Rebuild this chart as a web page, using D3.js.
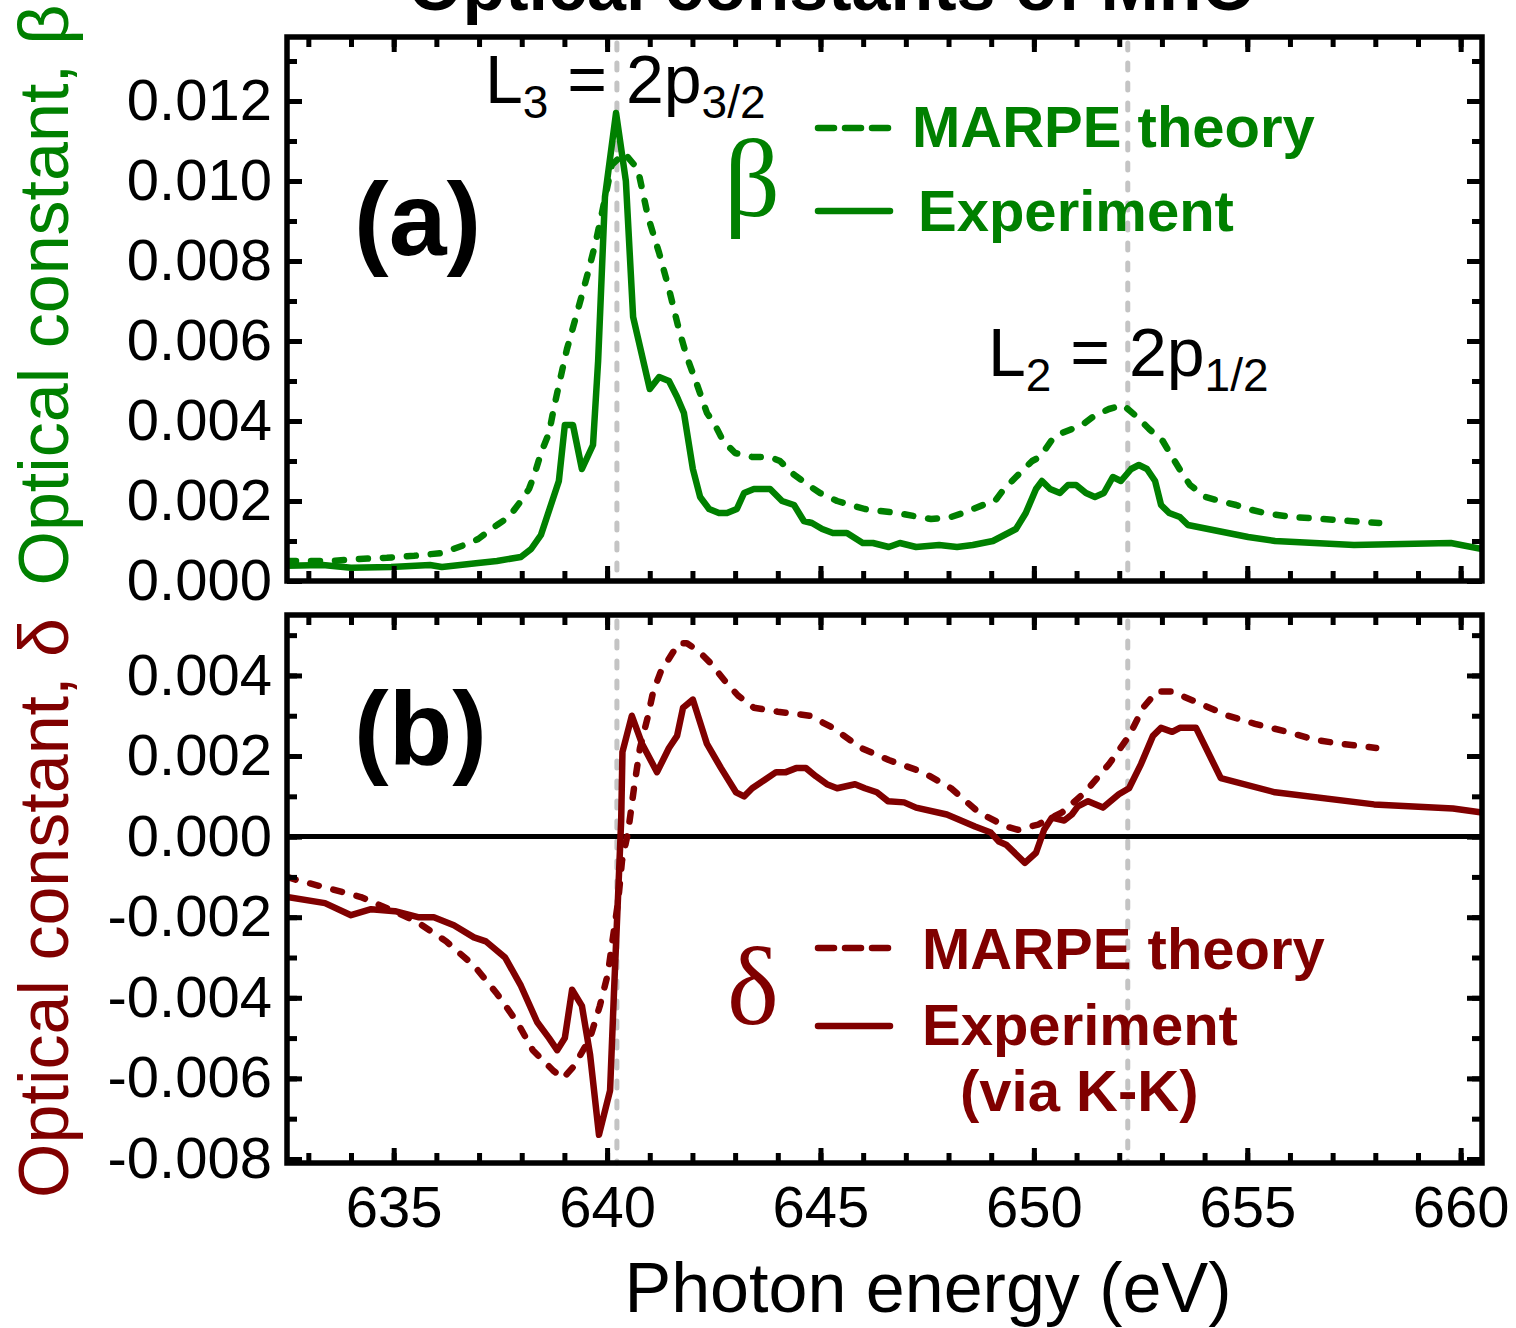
<!DOCTYPE html>
<html><head><meta charset="utf-8">
<script src="https://cdn.jsdelivr.net/npm/d3@7"></script>
<style>html,body{margin:0;padding:0;background:#fff;}svg{display:block;}</style>
</head><body>
<svg id="chart" width="1516" height="1328"></svg>
<script>
// ---------- data ----------
const xTicksMajor = [635, 640, 645, 650, 655, 660];
const betaTicks = [0, 0.002, 0.004, 0.006, 0.008, 0.010, 0.012];
const deltaTicks = [-0.008, -0.006, -0.004, -0.002, 0, 0.002, 0.004];
const edgeEnergies = [640.23, 652.2];

const betaExperiment = [[632.5,0.00038],[633.34,0.0004],[634.0,0.00033],[634.94,0.00035],[635.85,0.0004],[636.13,0.00035],[636.98,0.00045],[637.42,0.0005],[637.98,0.0006],[638.22,0.0008],[638.45,0.00115],[638.87,0.0025],[639.01,0.0039],[639.2,0.0039],[639.41,0.0028],[639.67,0.0034],[639.79,0.0055],[639.95,0.0096],[640.21,0.0117],[640.44,0.0100],[640.61,0.0066],[641.0,0.0048],[641.22,0.0051],[641.45,0.005],[641.64,0.0046],[641.8,0.0042],[642.01,0.0028],[642.18,0.0021],[642.39,0.0018],[642.62,0.0017],[642.81,0.0017],[643.04,0.0018],[643.21,0.0022],[643.44,0.0023],[643.82,0.0023],[644.1,0.002],[644.38,0.0019],[644.61,0.0015],[644.8,0.00145],[645.04,0.0013],[645.29,0.0012],[645.62,0.0012],[645.99,0.00095],[646.23,0.00095],[646.6,0.00085],[646.86,0.00095],[647.24,0.00085],[647.78,0.0009],[648.2,0.00085],[648.57,0.0009],[649.04,0.001],[649.58,0.0013],[649.81,0.0017],[650.05,0.0023],[650.19,0.0025],[650.38,0.0023],[650.61,0.0022],[650.8,0.0024],[650.99,0.0024],[651.22,0.0022],[651.43,0.0021],[651.64,0.0022],[651.85,0.0026],[652.04,0.0025],[652.28,0.0028],[652.46,0.0029],[652.65,0.0028],[652.84,0.0025],[652.98,0.0019],[653.17,0.0017],[653.42,0.0016],[653.61,0.0014],[655.02,0.0011],[655.65,0.001],[657.5,0.0009],[659.77,0.00095],[660.5,0.0008]];

const betaTheory = [[632.5,0.0005],[633.53,0.0005],[634.19,0.00055],[634.84,0.00058],[635.48,0.00063],[636.13,0.0007],[636.79,0.00095],[636.98,0.00105],[637.42,0.0014],[637.7,0.0016],[637.98,0.002],[638.17,0.0023],[638.31,0.0027],[638.45,0.0032],[638.64,0.0037],[638.73,0.0042],[638.87,0.0049],[639.06,0.0058],[639.27,0.0066],[639.55,0.0077],[639.74,0.0085],[639.88,0.0092],[640.11,0.0104],[640.4,0.0107],[640.72,0.0103],[640.96,0.0091],[641.22,0.0082],[641.45,0.0073],[641.68,0.0063],[641.87,0.0056],[642.11,0.0049],[642.34,0.0042],[642.53,0.0039],[642.72,0.0035],[643.0,0.0032],[643.4,0.0031],[643.82,0.0031],[644.05,0.003],[644.33,0.0027],[644.71,0.0024],[644.99,0.0022],[645.39,0.002],[646.04,0.0018],[646.79,0.0017],[647.59,0.00155],[648.06,0.0016],[648.34,0.0017],[648.81,0.0019],[649.09,0.002],[649.3,0.0023],[649.58,0.0026],[649.96,0.003],[650.14,0.0031],[650.47,0.0036],[650.66,0.0037],[651.13,0.0039],[651.38,0.0041],[651.76,0.0043],[652.09,0.0044],[652.42,0.0041],[652.7,0.0038],[653.02,0.0035],[653.24,0.0031],[653.47,0.0027],[653.66,0.0024],[654.03,0.0021],[654.36,0.002],[654.74,0.0019],[655.02,0.0018],[655.41,0.0017],[656.02,0.0016],[656.77,0.00155],[657.41,0.0015],[658.09,0.00145]];

const deltaExperiment = [[632.5,-0.0015],[633.39,-0.00165],[634.0,-0.00195],[634.47,-0.0018],[635.03,-0.00185],[635.57,-0.002],[635.94,-0.002],[636.41,-0.0022],[636.88,-0.0025],[637.16,-0.0026],[637.61,-0.003],[637.98,-0.0037],[638.36,-0.0046],[638.64,-0.005],[638.83,-0.0053],[639.01,-0.005],[639.18,-0.0038],[639.41,-0.0042],[639.6,-0.0054],[639.81,-0.0074],[640.07,-0.0063],[640.16,-0.0039],[640.26,-0.0014],[640.33,0.0004],[640.36,0.0021],[640.58,0.003],[640.82,0.0023],[641.17,0.0016],[641.45,0.0022],[641.64,0.0025],[641.78,0.0032],[642.01,0.0034],[642.34,0.0023],[642.67,0.0017],[643.02,0.0011],[643.21,0.001],[643.4,0.0012],[643.68,0.0014],[643.96,0.0016],[644.19,0.0016],[644.43,0.0017],[644.66,0.0017],[644.89,0.0015],[645.15,0.0013],[645.39,0.0012],[645.81,0.0013],[646.04,0.0012],[646.32,0.0011],[646.58,0.00088],[646.96,0.00085],[647.24,0.00072],[647.96,0.00055],[648.25,0.00042],[648.62,0.00025],[648.99,0.0001],[649.18,-0.00012],[649.35,-0.0002],[649.79,-0.00065],[650.05,-0.0004],[650.24,0.00017],[650.42,0.00047],[650.71,0.0004],[650.89,0.00055],[651.03,0.00075],[651.27,0.00088],[651.62,0.00072],[651.99,0.00105],[652.23,0.0012],[652.51,0.0018],[652.79,0.0025],[652.98,0.0027],[653.24,0.0026],[653.42,0.0027],[653.8,0.0027],[654.38,0.00145],[655.65,0.0011],[657.97,0.0008],[659.82,0.0007],[660.5,0.0006]];

const deltaTheory = [[632.5,-0.001],[632.71,-0.00107],[633.53,-0.0013],[634.23,-0.0015],[634.89,-0.0018],[635.52,-0.0021],[636.23,-0.0026],[636.88,-0.0032],[637.42,-0.0039],[637.89,-0.0046],[638.26,-0.0053],[638.73,-0.0058],[638.97,-0.006],[639.22,-0.0057],[639.6,-0.005],[639.83,-0.0042],[640.02,-0.0034],[640.11,-0.0027],[640.26,-0.0016],[640.35,-0.0006],[640.49,0.0001],[640.63,0.0012],[640.77,0.0022],[640.96,0.003],[641.08,0.0036],[641.26,0.0041],[641.5,0.0045],[641.68,0.0048],[641.87,0.0048],[642.15,0.0046],[642.43,0.0043],[642.81,0.0038],[643.07,0.0035],[643.44,0.0032],[644.0,0.0031],[644.75,0.003],[645.29,0.0027],[645.95,0.0022],[646.6,0.0019],[647.4,0.0016],[648.06,0.0012],[648.71,0.0006],[649.35,0.00025],[649.63,0.00017],[650.1,0.0003],[650.66,0.0006],[651.2,0.0011],[651.76,0.0018],[652.23,0.0025],[652.56,0.0032],[652.88,0.0036],[653.24,0.0036],[653.89,0.0033],[654.55,0.003],[655.18,0.0028],[655.93,0.0026],[656.59,0.0024],[657.22,0.0023],[658.02,0.0022]];

// ---------- layout ----------
const GREEN = "#008000", RED = "#800000";
const SANS = "'Liberation Sans', Arial, sans-serif";
const SERIF = "'Liberation Serif', 'Times New Roman', serif";
const svg = d3.select("#chart");
const L = 287, R = 1482;
const x = d3.scaleLinear().domain([632.5, 660.5]).range([L, R]);
const xMinor = d3.range(633, 661, 1);

const panels = [
  {top: 37, bottom: 581, domain: [0, 0.0136], ticks: betaTicks, minor: d3.range(0, 0.01351, 0.001),
   series: [betaTheory, betaExperiment], color: GREEN, id: "a"},
  {top: 615, bottom: 1163, domain: [-0.0081, 0.0055], ticks: deltaTicks, minor: d3.range(-0.008, 0.00551, 0.001),
   series: [deltaTheory, deltaExperiment], color: RED, id: "b"}
];

const fmt = d => (Math.abs(d) < 1e-9 ? 0 : d).toFixed(3);
const LW = 6.5;

panels.forEach((p, i) => {
  const y = d3.scaleLinear().domain(p.domain).range([p.bottom, p.top]);
  const g = svg.append("g");
  g.append("clipPath").attr("id", "clip" + p.id)
    .append("rect").attr("x", L).attr("y", p.top).attr("width", R - L).attr("height", p.bottom - p.top);

  // edge markers (grey dashed)
  g.selectAll(".edge").data(edgeEnergies).enter().append("line")
    .attr("x1", d => x(d)).attr("x2", d => x(d))
    .attr("y1", p.top + 6).attr("y2", p.bottom)
    .attr("stroke", "#c4c4c4").attr("stroke-width", 5)
    .attr("stroke-dasharray", "7,13").attr("stroke-linecap", "round");

  if (p.id === "b") {
    g.append("line").attr("x1", L).attr("x2", R).attr("y1", y(0)).attr("y2", y(0))
      .attr("stroke", "#000").attr("stroke-width", 5);
  }

  const line = d3.line().x(d => x(d[0])).y(d => y(d[1]));
  const lg = g.append("g").attr("clip-path", `url(#clip${p.id})`);
  lg.append("path").datum(p.series[0]).attr("d", line).attr("fill", "none")
    .attr("stroke", p.color).attr("stroke-width", LW)
    .attr("stroke-dasharray", "9,15").attr("stroke-linecap", "round").attr("stroke-linejoin", "round");
  lg.append("path").datum(p.series[1]).attr("d", line).attr("fill", "none")
    .attr("stroke", p.color).attr("stroke-width", LW).attr("stroke-linejoin", "round");

  const styleAxis = sel => {
    sel.select(".domain").remove();
    sel.selectAll(".tick line").attr("stroke", "#000").attr("stroke-width", 5);
    sel.selectAll("text").attr("font-family", SANS).attr("font-size", 58).attr("fill", "#000");
  };
  g.append("g").attr("transform", `translate(${L},0)`)
    .call(d3.axisLeft(y).tickValues(p.minor).tickSizeInner(-10).tickSizeOuter(0).tickFormat(""))
    .call(styleAxis);
  g.append("g").attr("transform", `translate(${R},0)`)
    .call(d3.axisRight(y).tickValues(p.minor).tickSizeInner(-10).tickSizeOuter(0).tickFormat(""))
    .call(styleAxis);
  g.append("g").attr("transform", `translate(${L},0)`)
    .call(d3.axisLeft(y).tickValues(p.ticks).tickSizeInner(-15).tickSizeOuter(0).tickPadding(15).tickFormat(fmt))
    .call(styleAxis);
  g.append("g").attr("transform", `translate(${R},0)`)
    .call(d3.axisRight(y).tickValues(p.ticks).tickSizeInner(-15).tickSizeOuter(0).tickFormat(""))
    .call(styleAxis);
  [["top", p.top, d3.axisTop], ["bottom", p.bottom, d3.axisBottom]].forEach(([side, yy, ax]) => {
    g.append("g").attr("transform", `translate(0,${yy})`)
      .call(ax(x).tickValues(xMinor).tickSizeInner(-10).tickSizeOuter(0).tickFormat(""))
      .call(styleAxis);
    const showLabels = (side === "bottom" && p.id === "b");
    g.append("g").attr("transform", `translate(0,${yy})`)
      .call(ax(x).tickValues(xTicksMajor).tickSizeInner(-15).tickSizeOuter(0).tickPadding(23)
        .tickFormat(showLabels ? d3.format("d") : ""))
      .call(styleAxis);
  });

  g.append("rect").attr("x", L).attr("y", p.top).attr("width", R - L).attr("height", p.bottom - p.top)
    .attr("fill", "none").attr("stroke", "#000").attr("stroke-width", 5.5);
});

// ---------- texts ----------
svg.append("text").attr("x", 832).attr("y", 10).attr("text-anchor", "middle")
  .attr("font-family", SANS).attr("font-weight", "bold").attr("font-size", 70)
  .text("Optical constants of MnO");

svg.append("text").attr("x", 928).attr("y", 1312).attr("text-anchor", "middle")
  .attr("font-family", SANS).attr("font-size", 70).text("Photon energy (eV)");

svg.append("text").attr("transform", "translate(68,295) rotate(-90)").attr("text-anchor", "middle")
  .attr("font-family", SANS).attr("font-size", 70).attr("fill", GREEN).text("Optical constant, β");
svg.append("text").attr("transform", "translate(68,908) rotate(-90)").attr("text-anchor", "middle")
  .attr("font-family", SANS).attr("font-size", 70).attr("fill", RED).text("Optical constant, δ");

svg.append("text").attr("x", 354).attr("y", 255).attr("font-family", SANS).attr("font-weight", "bold")
  .attr("font-size", 104).text("(a)");
svg.append("text").attr("x", 354).attr("y", 764).attr("font-family", SANS).attr("font-weight", "bold")
  .attr("font-size", 104).text("(b)");

function edgeLabel(xp, yp, main, sub1, mid, sub2) {
  const t = svg.append("text").attr("x", xp).attr("y", yp).attr("font-family", SANS).attr("font-size", 68);
  t.append("tspan").text(main);
  t.append("tspan").attr("font-size", 46).attr("dy", 15).text(sub1);
  t.append("tspan").attr("dy", -15).text(mid);
  t.append("tspan").attr("font-size", 46).attr("dy", 15).text(sub2);
}
edgeLabel(485, 103, "L", "3", " = 2p", "3/2");
edgeLabel(988, 376, "L", "2", " = 2p", "1/2");

function legend(color, greek, gx, gy, items) {
  svg.append("text").attr("x", gx).attr("y", gy).attr("font-family", SERIF).attr("font-size", 110)
    .attr("fill", color).text(greek);
  items.forEach(it => {
    if (it.dash !== undefined) {
      svg.append("line").attr("x1", 818).attr("x2", 890).attr("y1", it.ly).attr("y2", it.ly)
        .attr("stroke", color).attr("stroke-width", LW)
        .attr("stroke-dasharray", it.dash ? "16,11" : null).attr("stroke-linecap", it.dash ? "round" : "round");
    }
    svg.append("text").attr("x", it.tx).attr("y", it.ty).attr("font-family", SANS).attr("font-weight", "bold")
      .attr("font-size", 58).attr("fill", color).text(it.label);
  });
}
legend(GREEN, "β", 724, 216, [
  {dash: true, ly: 128, tx: 912, ty: 147, label: "MARPE theory"},
  {dash: false, ly: 211, tx: 918, ty: 231, label: "Experiment"}
]);
legend(RED, "δ", 727, 1024, [
  {dash: true, ly: 948, tx: 922, ty: 969, label: "MARPE theory"},
  {dash: false, ly: 1026, tx: 922, ty: 1045, label: "Experiment"},
  {tx: 960, ty: 1111, label: "(via K-K)"}
]);
</script>
</body></html>
